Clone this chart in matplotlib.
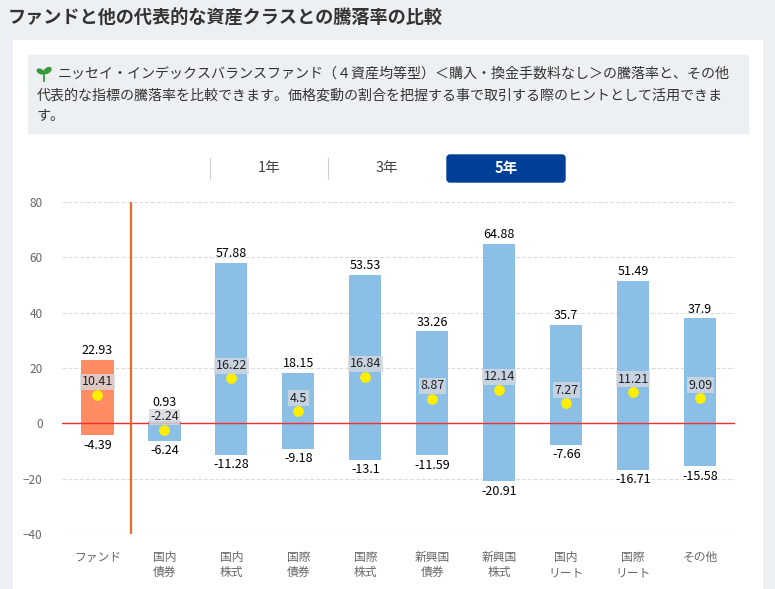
import numpy as np
import matplotlib.pyplot as plt
from matplotlib.patches import Rectangle, FancyBboxPatch, Ellipse

plt.rcParams['font.family'] = ['Noto Sans CJK JP', 'DejaVu Sans']

categories = ['ファンド', '国内\n債券', '国内\n株式', '国際\n債券', '国際\n株式',
              '新興国\n債券', '新興国\n株式', '国内\nリート', '国際\nリート', 'その他']
highs = [22.93, 0.93, 57.88, 18.15, 53.53, 33.26, 64.88, 35.7, 51.49, 37.9]
lows = [-4.39, -6.24, -11.28, -9.18, -13.1, -11.59, -20.91, -7.66, -16.71, -15.58]
means = [10.41, -2.24, 16.22, 4.5, 16.84, 8.87, 12.14, 7.27, 11.21, 9.09]
tabs = ['1年', '3年', '5年']

W, H = 775, 589
fig = plt.figure(figsize=(W / 100, H / 100), dpi=100, facecolor='#edf0f3')

# 背景・カード類（ピクセル座標）
bg = fig.add_axes([0, 0, 1, 1])
bg.set_xlim(0, W)
bg.set_ylim(H, 0)
bg.axis('off')
bg.add_patch(Rectangle((13, 40), 749, 560, color='white'))
bg.add_patch(Rectangle((28, 55), 720, 78, color='#edf0f3'))
bg.text(8, 18, 'ファンドと他の代表的な資産クラスとの騰落率の比較', fontsize=13.1,
        fontweight='bold', color='#333333', va='center')
# 芽のアイコン（図形で描く）
bg.plot([44, 44], [74, 81], color='#3a9a3a', lw=1.3)
bg.add_patch(Ellipse((40.5, 71.5), 7, 4, angle=30, color='#3a9a3a'))
bg.add_patch(Ellipse((47.5, 70.5), 8, 4.5, angle=-35, color='#3a9a3a'))
info = ['ニッセイ・インデックスバランスファンド（４資産均等型）＜購入・換金手数料なし＞の騰落率と、その他',
        '代表的な指標の騰落率を比較できます。価格変動の割合を把握する事で取引する際のヒントとして活用できま',
        'す。']
bg.text(58, 74, info[0], fontsize=10.1, color='#333333', va='center')
for i, line in enumerate(info[1:]):
    bg.text(37, 95 + i * 21, line, fontsize=10.1, color='#333333', va='center')

tab_x = [210, 328, 447]
for i, t in enumerate(tabs):
    if i == 2:
        bg.add_patch(FancyBboxPatch((tab_x[i], 155), 118, 27,
                                    boxstyle='round,pad=0,rounding_size=3', color='#003f98'))
        bg.text(tab_x[i] + 59, 168, t, ha='center', va='center', color='white',
                fontsize=10.5, fontweight='bold')
    else:
        bg.text(tab_x[i] + 59, 168, t, ha='center', va='center', color='#444444', fontsize=10.5)
        bg.plot([tab_x[i], tab_x[i]], [158, 179], color='#d0d0d0', lw=0.8)

# メインチャート
ax = fig.add_axes([62 / W, (H - 534) / H, (735 - 62) / W, 332 / H])
ax.set_xlim(-0.53, 9.52)
ax.set_ylim(-40, 80)
ax.set_facecolor('white')
for s in ax.spines.values():
    s.set_visible(False)
ax.set_yticks(np.arange(-40, 81, 20))
ax.tick_params(axis='y', length=0, labelsize=8.5, labelcolor='#666666', pad=14)
ax.grid(axis='y', color='#dddddd', ls='--', lw=0.8)
ax.set_axisbelow(True)
x = np.arange(len(categories))
ax.set_xticks(x)
ax.set_xticklabels(categories, fontsize=8.5, color='#666666', linespacing=1.25)
ax.tick_params(axis='x', length=0, pad=12)

colors = ['#ff8c62'] + ['#8cbfe6'] * (len(categories) - 1)
ax.bar(x, np.array(highs) - np.array(lows), bottom=lows, width=0.48, color=colors, zorder=2)
ax.axhline(0, color='#f03030', lw=1, zorder=3)
ax.axvline(0.5, color='#ee6a2a', lw=1.6, zorder=3)
ax.scatter(x, means, s=45, color='#ffee00', zorder=5)
for i in range(len(categories)):
    top = max(highs[i], means[i] + 6.3)
    ax.text(x[i], top + 1.0, f'{highs[i]:g}', ha='center', va='bottom', fontsize=9, color='black')
    ax.text(x[i], lows[i] - 1.3, f'{lows[i]:g}', ha='center', va='top', fontsize=9, color='black')
    ax.text(x[i], means[i] + 2.3, f'{means[i]:g}', ha='center', va='bottom', fontsize=9, color='#222222',
            zorder=6, bbox=dict(boxstyle='square,pad=0.12', fc='#d5d8de', ec='none', alpha=0.8))

fig.savefig('out.png', dpi=100)
